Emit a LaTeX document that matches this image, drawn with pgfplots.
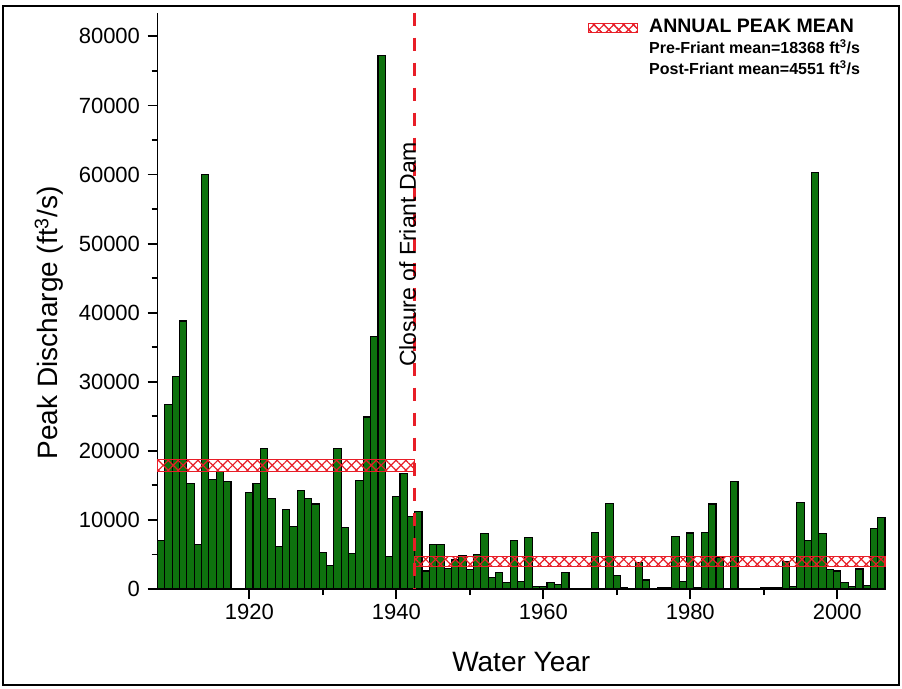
\documentclass[border=0pt]{standalone}
\usepackage{pgfplots}
\pgfplotsset{compat=1.18}
\usepackage{pgfplotstable}
\usepackage{fontspec}
\setmainfont{Liberation Sans}
\usetikzlibrary{patterns.meta}
\definecolor{bargreen}{RGB}{14,114,14}
\definecolor{meanred}{RGB}{232,30,40}

\pgfplotstableread{
year peak
1908 7000
1909 26700
1910 30700
1911 38800
1912 15300
1913 6500
1914 60000
1915 15900
1916 17000
1917 15600
1918 0
1919 0
1920 14000
1921 15300
1922 20400
1923 13100
1924 6100
1925 11500
1926 9100
1927 14300
1928 13100
1929 12300
1930 5300
1931 3400
1932 20400
1933 8900
1934 5200
1935 15700
1936 24900
1937 36500
1938 77200
1939 4700
1940 13400
1941 16700
1942 10500
1943 11200
1944 2600
1945 6400
1946 6400
1947 3000
1948 4200
1949 4900
1950 2800
1951 5000
1952 8000
1953 1600
1954 2400
1955 1000
1956 7000
1957 1100
1958 7500
1959 300
1960 300
1961 900
1962 700
1963 2400
1964 100
1965 100
1966 100
1967 8200
1968 100
1969 12400
1970 1900
1971 150
1972 100
1973 3800
1974 1300
1975 100
1976 200
1977 200
1978 7600
1979 1100
1980 8100
1981 150
1982 8200
1983 12300
1984 4600
1985 100
1986 15500
1987 100
1988 100
1989 100
1990 150
1991 200
1992 250
1993 4000
1994 300
1995 12500
1996 7000
1997 60300
1998 8000
1999 2800
2000 2600
2001 900
2002 300
2003 2900
2004 500
2005 8700
2006 10300
}\peaks

\tikzset{
  hatchA/.style={pattern={Lines[angle=45,distance=7pt,line width=1.2pt]}, pattern color=meanred},
  hatchB/.style={pattern={Lines[angle=-45,distance=7pt,line width=1.2pt]}, pattern color=meanred},
}

\begin{document}
\begin{tikzpicture}
\useasboundingbox (0,0) rectangle (902pt,688pt);
\draw[line width=2pt] (3pt,3pt) rectangle (899pt,682pt);
\begin{axis}[
  at={(157.5pt,99pt)}, anchor=south west,
  scale only axis, width=727.5pt, height=576.3pt,
  xmin=1907.5, xmax=2006.5, ymin=0, ymax=83430,
  axis lines=left,
  axis line style={-, line width=1.8pt},
  xtick={1920,1940,1960,1980,2000}, minor x tick num=1,
  ytick={0,10000,20000,30000,40000,50000,60000,70000,80000}, minor y tick num=1,
  tick align=outside,
  major tick length=10pt, minor tick length=6pt,
  every tick/.style={line width=1.8pt, black},
  scaled y ticks=false,
  /pgf/number format/1000 sep={},
  /pgf/number format/assume math mode=true,
  tick label style={font=\fontsize{22}{25}\selectfont},
  yticklabel style={xshift=-4pt},
  xticklabel style={yshift=-2pt},
  xlabel={Water Year},
  ylabel={Peak Discharge (ft\textsuperscript{3}/s)},
  label style={font=\fontsize{28}{32}\selectfont},
  xlabel style={at={(axis description cs:0.5,-0.1267)}, anchor=center},
  ylabel style={at={(axis description cs:-0.1491,0.4616)}, anchor=center},
  clip=false,
  legend style={at={(axis description cs:0.5918,0.9891)}, anchor=north west,
    draw=none, fill=none, inner sep=0pt, outer sep=0pt,
    row sep=3.5pt, column sep=11pt,
    nodes={inner sep=0pt, text height=13.5pt, text depth=4pt,
      font=\bfseries\fontsize{16}{18}\selectfont}},
  legend cell align=left,
]
\addplot[ybar, bar width=1, fill=bargreen, draw=black, line width=1.1pt, forget plot]
  table[x=year, y=peak] {\peaks};

\addplot[draw=meanred, line width=1.3pt, hatchA, postaction={hatchB},
  legend image code/.code={
    \draw[meanred, line width=1.2pt, hatchA, postaction={hatchB}]
      (0pt,-4.5pt) rectangle (49pt,4.5pt);}]
  coordinates {(1907.5,17000) (1942.5,17000) (1942.5,18700) (1907.5,18700)} -- cycle;
\addlegendentry{\fontsize{19.5}{21}\selectfont ANNUAL PEAK MEAN}

\addplot[draw=meanred, line width=1.3pt, hatchA, postaction={hatchB}, forget plot]
  coordinates {(1942.5,3250) (2006.5,3250) (2006.5,4750) (1942.5,4750)} -- cycle;

\addplot[meanred, line width=3pt, dash pattern=on 13pt off 12pt, forget plot]
  coordinates {(1942.5,83430) (1942.5,0)};

\addlegendimage{empty legend}
\addlegendentry{Pre-Friant mean=18368 ft\textsuperscript{3}/s}
\addlegendimage{empty legend}
\addlegendentry{Post-Friant mean=4551 ft\textsuperscript{3}/s}

\node[rotate=90, anchor=base, font=\fontsize{23}{26}\selectfont]
  at (axis cs:1942.65,48430) {Closure of Friant Dam};
\end{axis}
\end{tikzpicture}
\end{document}
